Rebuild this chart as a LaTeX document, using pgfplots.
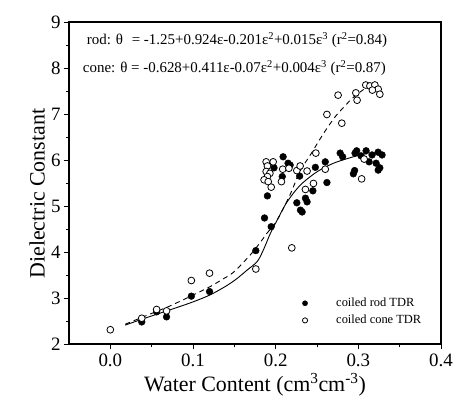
\documentclass[border=0pt]{standalone}
\usepackage{pgfplots}
\pgfplotsset{compat=1.18}
\usepackage{fontspec}
\setmainfont{Liberation Serif}
\begin{document}
\begin{tikzpicture}[x=1bp,y=1bp]
\useasboundingbox (-69bp,-63bp) rectangle (384bp,344bp);
\begin{axis}[
  at={(0,0)}, anchor=south west,
  scale only axis, width=372bp, height=322bp,
  xmin=-0.05, xmax=0.4, ymin=2, ymax=9,
  xtick={0,0.1,0.2,0.3,0.4}, ytick={2,3,4,5,6,7,8,9},
  minor x tick num=1, minor y tick num=1,
  tick align=outside, xtick pos=bottom, ytick pos=left,
  major tick length=5bp, minor tick length=3bp,
  axis line style={line width=1.1bp}, tick style={line width=0.9bp, black},
  /pgf/number format/assume math mode=true,
  xticklabel style={/pgf/number format/fixed, /pgf/number format/fixed zerofill, /pgf/number format/precision=1, yshift=-1bp},
  ticklabel style={font=\fontsize{19}{21}\selectfont},
  xlabel={Water Content (cm\textsuperscript{3}cm\textsuperscript{-3})},
  ylabel={Dielectric Constant},
  xlabel style={font=\fontsize{22}{24}\selectfont, at={(axis description cs:0.5,-0.127)}, anchor=center},
  ylabel style={font=\fontsize{22}{24}\selectfont, at={(axis description cs:-0.086,0.467)}, anchor=center, rotate=0},
  legend style={draw=none, fill=none, font=\fontsize{12.5}{14}\selectfont,
     at={(axis description cs:0.62,0.149)}, anchor=north west,
     row sep=3bp, inner sep=0pt},
  legend cell align=left,
  legend image code/.code={\path[#1, mark size=2.6bp] plot coordinates {(5bp,0bp)}; \path (0bp,0bp) (34bp,0bp);},
  clip=false,
]
% fitted curves
\addplot[black, line width=0.9bp, smooth, tension=0.5, forget plot] coordinates {
(0.018,2.41)(0.040,2.55)(0.060,2.67)(0.080,2.79)(0.1007,2.92)(0.121,3.07)(0.140,3.26)(0.153,3.42)(0.165,3.60)(0.178,3.80)(0.186,4.08)(0.193,4.38)(0.2014,4.68)(0.2135,5.08)(0.2296,5.45)(0.2497,5.74)(0.270,5.93)(0.294,6.07)(0.310,6.14)};
\addplot[black, line width=0.9bp, dash pattern=on 5bp off 4bp, smooth, tension=0.5, forget plot] coordinates {
(0.018,2.43)(0.048,2.65)(0.0725,2.83)(0.1007,3.07)(0.121,3.25)(0.135,3.40)(0.149,3.56)(0.169,3.93)(0.181,4.20)(0.190,4.42)(0.2014,4.68)(0.2175,5.25)(0.2296,5.76)(0.243,6.14)(0.258,6.58)(0.272,6.94)(0.284,7.18)(0.292,7.33)(0.300,7.45)(0.307,7.54)(0.314,7.62)};
% rod data
\addplot[only marks, mark=*, mark size=3.4bp, black, mark options={fill=black}] coordinates {
(0.038,2.48)(0.056,2.70)(0.068,2.59)(0.098,3.04)(0.120,3.14)(0.176,4.03)
(0.1865,4.74)(0.1946,4.55)(0.190,5.22)(0.198,5.83)(0.209,6.07)(0.215,5.93)
(0.208,5.64)(0.2175,5.89)(0.229,5.65)(0.248,5.84)(0.260,5.96)(0.262,5.51)(0.245,5.33)
(0.236,5.17)(0.238,5.09)(0.2256,5.07)(0.230,4.91)(0.232,4.87)
(0.278,6.15)(0.281,6.07)(0.296,6.15)(0.298,6.20)(0.294,5.70)(0.2955,5.77)(0.324,5.78)
(0.3033,6.09)(0.3094,6.20)(0.3166,6.11)(0.3239,6.17)(0.3287,6.11)(0.313,5.96)(0.3215,5.93)(0.326,5.83)
};
\addlegendentry{coiled rod TDR}
% cone data
\addplot[only marks, mark=*, mark size=3.4bp, black, mark options={fill=white, line width=0.8bp}] coordinates {
(0.000,2.31)(0.038,2.56)(0.056,2.75)(0.068,2.72)(0.098,3.38)(0.120,3.54)(0.176,3.63)(0.2195,4.09)
(0.1885,5.96)(0.197,5.96)(0.190,5.87)(0.1885,5.75)(0.193,5.71)(0.190,5.64)(0.186,5.57)(0.191,5.53)(0.1946,5.41)
(0.207,5.53)(0.2085,5.80)(0.216,5.82)(0.2256,5.77)(0.2296,5.87)(0.238,5.76)(0.260,5.80)(0.2457,5.49)(0.236,5.36)
(0.2486,6.15)(0.304,5.59)(0.307,6.02)
(0.262,6.99)(0.280,6.80)(0.2755,7.41)
(0.2985,7.30)(0.297,7.46)(0.309,7.63)(0.314,7.61)(0.320,7.63)(0.324,7.54)(0.326,7.43)(0.317,7.52)
};
\addlegendentry{coiled cone TDR}
\node[anchor=west, inner sep=0pt, font=\fontsize{15}{17}\selectfont] at (axis description cs:0.0476,0.944)
  {rod: θ\,\, = -1.25+0.924ε-0.201ε\textsuperscript{2}+0.015ε\textsuperscript{3} (r\textsuperscript{2}=0.84)};
\node[anchor=west, inner sep=0pt, font=\fontsize{15}{17}\selectfont] at (axis description cs:0.037,0.857)
  {cone: θ = -0.628+0.411ε-0.07ε\textsuperscript{2}+0.004ε\textsuperscript{3} (r\textsuperscript{2}=0.87)};
\end{axis}
\end{tikzpicture}
\end{document}
